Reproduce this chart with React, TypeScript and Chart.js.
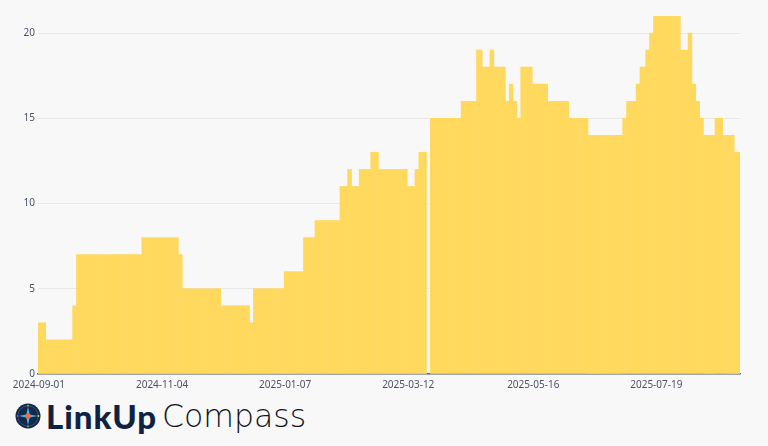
import React, { useEffect, useRef } from "react";
import { Chart, registerables } from "chart.js";

Chart.register(...registerables);

// Daily counts (one array per month)
const sep2024 = [3,3,3,3, 2,2,2,2,2,2,2,2,2,2,2,2,2,2, 4,4, 7,7,7,7,7,7,7,7,7,7];
const oct2024 = [7,7,7,7,7,7,7,7,7,7, 7,7,7,7,7,7,7,7,7,7, 7,7,7,7, 8,8,8,8,8,8,8];
const nov2024 = [8,8,8,8,8,8,8,8,8,8,8,8, 7,7, 5,5,5,5,5,5,5,5,5,5,5,5,5,5,5,5];
const dec2024 = [5,5,5,5, 4,4,4,4,4,4,4,4,4,4,4,4,4,4,4, 3,3, 5,5,5,5,5,5,5,5,5,5];
const jan2025 = [5,5,5,5,5,5, 6,6,6,6,6,6,6,6,6,6, 8,8,8,8,8,8, 9,9,9,9,9,9,9,9,9];
const feb2025 = [9,9,9,9, 11,11,11,11, 12,12, 11,11,11,11, 12,12,12,12,12,12, 13,13,13,13, 12,12,12,12];
const mar2025 = [12,12,12,12,12,12,12,12,12,12,12, 11,11,11,11, 12,12, 13,13,13,13, null,null, 15,15,15,15,15,15,15,15];
const apr2025 = [15,15,15,15,15,15,15,15, 16,16,16,16,16,16,16,16, 19,19,19, 18,18,18,18, 19,19, 18,18,18,18,18];
const may2025 = [18, 16,16, 17,17, 16,16, 15,15, 18,18,18,18,18,18, 17,17,17,17,17,17,17,17, 16,16,16,16,16,16,16,16];
const jun2025 = [16,16,16, 15,15,15,15,15,15,15,15,15,15, 14,14,14,14,14,14,14,14,14,14,14,14,14,14,14,14,14];
const jul2025 = [14, 15,15, 16,16,16,16,16, 17,17, 18,18,18, 19,19, 20,20, 21,21,21,21,21,21,21,21,21,21,21,21,21,21];
const aug2025 = [19,19,19,19, 20,20, 17,17, 16,16, 15,15, 14,14,14,14,14,14, 15,15,15,15, 14,14,14,14,14,14, 13,13,13];

const tickLabels = ["2024-09-01", "2024-11-04", "2025-01-07", "2025-03-12", "2025-05-16", "2025-07-19"];
const yTicks = [0, 5, 10, 15, 20];
const startDate = "2024-09-01";

const values: (number | null)[] = [
  ...sep2024, ...oct2024, ...nov2024, ...dec2024, ...jan2025, ...feb2025,
  ...mar2025, ...apr2025, ...may2025, ...jun2025, ...jul2025, ...aug2025,
];

function buildDates(start: string, n: number): string[] {
  const out: string[] = [];
  const [y, m, d] = start.split("-").map(Number);
  for (let i = 0; i < n; i++) {
    const dt = new Date(Date.UTC(y, m - 1, d + i));
    out.push(dt.toISOString().slice(0, 10));
  }
  return out;
}

const categories = buildDates(startDate, values.length);

function CompassIcon() {
  return (
    <svg width="26" height="26" viewBox="0 0 26 26" style={{ display: "block" }}>
      <circle cx="13" cy="13" r="12.5" fill="#13294a" />
      <circle cx="13" cy="13" r="10.2" fill="none" stroke="#3b5a80" strokeWidth="0.8" />
      <polygon points="13,3.5 14.6,11.4 22.5,13 14.6,14.6 13,22.5 11.4,14.6 3.5,13 11.4,11.4" fill="#4fb3e8" />
      <circle cx="13" cy="13" r="2.6" fill="#f26b3a" />
      <circle cx="13" cy="2.6" r="0.9" fill="#f5a623" />
      <circle cx="23.4" cy="13" r="0.9" fill="#f2d23a" />
      <circle cx="13" cy="23.4" r="0.9" fill="#5cc36b" />
      <circle cx="2.6" cy="13" r="0.9" fill="#d6338a" />
    </svg>
  );
}

export default function App() {
  const canvasRef = useRef<HTMLCanvasElement | null>(null);

  useEffect(() => {
    if (!canvasRef.current) return;
    const chart = new Chart(canvasRef.current, {
      type: "bar",
      data: {
        labels: categories,
        datasets: [
          {
            data: values,
            backgroundColor: "#FFD95E",
            borderWidth: 0,
            barPercentage: 1,
            categoryPercentage: 1,
          },
        ],
      },
      options: {
        animation: false,
        responsive: false,
        maintainAspectRatio: false,
        layout: { padding: { left: 0, right: 28, top: 16, bottom: 0 } },
        plugins: { legend: { display: false }, tooltip: { enabled: false } },
        scales: {
          x: {
            type: "category",
            grid: { display: false, drawTicks: false },
            border: { display: true, color: "#5b6270", width: 1.5 },
            ticks: {
              autoSkip: false,
              maxRotation: 0,
              minRotation: 0,
              padding: 5,
              color: "#4a5366",
              font: { family: "'Noto Sans', sans-serif", size: 10 },
              callback: function (_v: any, i: number) {
                const lab = categories[i];
                return tickLabels.includes(lab) ? lab : null;
              },
            },
            afterFit: (scale: any) => {
              scale.height = 18;
            },
          },
          y: {
            min: 0,
            max: 21,
            grid: { color: "#e8e8e8", lineWidth: 1, drawTicks: false },
            border: { display: false },
            ticks: {
              stepSize: 5,
              includeBounds: false,
              padding: 3,
              color: "#4a5366",
              font: { family: "'Noto Sans', sans-serif", size: 10 },
              callback: (v: any) => (yTicks.includes(Number(v)) ? String(v) : null),
            },
            afterFit: (scale: any) => {
              scale.width = 38;
            },
          },
        },
      },
    });
    return () => chart.destroy();
  }, []);

  return (
    <div
      style={{
        position: "fixed",
        left: 0,
        top: 0,
        width: 768,
        height: 446,
        background: "#f8f8f8",
        overflow: "hidden",
      }}
    >
      <canvas ref={canvasRef} width={768} height={392} style={{ position: "absolute", left: 0, top: 0, width: 768, height: 392 }} />
      <div style={{ position: "absolute", left: 15, top: 400, display: "flex", alignItems: "center" }}>
        <CompassIcon />
        <span
          style={{
            marginLeft: 5,
            fontFamily: "Lato, sans-serif",
            fontWeight: 900,
            fontSize: 33,
            lineHeight: "32px",
            color: "#0f2341",
            letterSpacing: 1,
          }}
        >
          LinkUp
        </span>
        <span
          style={{
            marginLeft: 5,
            fontFamily: "'DejaVu Sans', sans-serif",
            fontWeight: 200,
            fontSize: 31.5,
            lineHeight: "32px",
            color: "#111418",
          }}
        >
          Compass
        </span>
      </div>
    </div>
  );
}
